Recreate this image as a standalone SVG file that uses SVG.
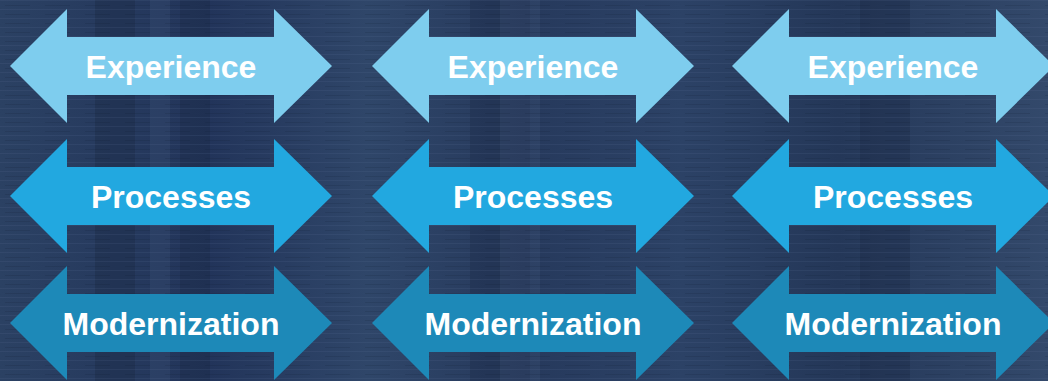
<svg xmlns="http://www.w3.org/2000/svg" width="1048" height="381" viewBox="0 0 1048 381">
  <defs>
    <linearGradient id="bg" x1="0" y1="0" x2="1" y2="0">
      <stop offset="0" stop-color="#2b4163"/>
      <stop offset="0.2" stop-color="#22345a"/>
      <stop offset="0.35" stop-color="#2f4669"/>
      <stop offset="0.5" stop-color="#26395c"/>
      <stop offset="0.65" stop-color="#2c4266"/>
      <stop offset="0.8" stop-color="#243758"/>
      <stop offset="1" stop-color="#33496b"/>
    </linearGradient>
    <pattern id="lines" width="40" height="9" patternUnits="userSpaceOnUse">
      <rect x="0" y="0" width="40" height="1" fill="#5a7397" opacity="0.15"/>
      <rect x="5" y="5" width="25" height="1" fill="#0f1a30" opacity="0.15"/>
    </pattern>
    <path id="arrow" d="M0,0 L57,-57 L57,-29 L264,-29 L264,-57 L322,0 L264,57 L264,29 L57,29 L57,57 Z"/>
  </defs>
  <style>
    .lt { fill: #7ecdee; }
    .md { fill: #22a8e0; }
    .dk { fill: #1d89b8; }
    .lbl { font-family: "Liberation Sans", Arial, sans-serif; font-weight: bold; font-size: 32px; fill: #ffffff; text-anchor: middle; }
  </style>
  <g id="background">
    <rect width="1048" height="381" fill="url(#bg)"/>
    <rect x="95" y="0" width="40" height="381" fill="#1a2743" opacity="0.35"/>
    <rect x="150" y="0" width="20" height="381" fill="#3b5478" opacity="0.3"/>
    <rect x="180" y="0" width="30" height="381" fill="#1a2743" opacity="0.3"/>
    <rect x="470" y="0" width="60" height="381" fill="#1a2743" opacity="0.3"/>
    <rect x="500" y="0" width="40" height="381" fill="#4a6388" opacity="0.2"/>
    <rect x="860" y="0" width="50" height="381" fill="#1a2743" opacity="0.3"/>
    <rect width="1048" height="381" fill="url(#lines)"/>
  </g>
  <g id="col1">
    <g id="c1-experience"><use href="#arrow" class="lt" transform="translate(10,66)"/><text class="lbl" x="171" y="78">Experience</text></g>
    <g id="c1-processes"><use href="#arrow" class="md" transform="translate(10,196)"/><text class="lbl" x="171" y="208">Processes</text></g>
    <g id="c1-modernization"><use href="#arrow" class="dk" transform="translate(10,323)"/><text class="lbl" x="171" y="335">Modernization</text></g>
  </g>
  <g id="col2">
    <g id="c2-experience"><use href="#arrow" class="lt" transform="translate(372,66)"/><text class="lbl" x="533" y="78">Experience</text></g>
    <g id="c2-processes"><use href="#arrow" class="md" transform="translate(372,196)"/><text class="lbl" x="533" y="208">Processes</text></g>
    <g id="c2-modernization"><use href="#arrow" class="dk" transform="translate(372,323)"/><text class="lbl" x="533" y="335">Modernization</text></g>
  </g>
  <g id="col3">
    <g id="c3-experience"><use href="#arrow" class="lt" transform="translate(732,66)"/><text class="lbl" x="893" y="78">Experience</text></g>
    <g id="c3-processes"><use href="#arrow" class="md" transform="translate(732,196)"/><text class="lbl" x="893" y="208">Processes</text></g>
    <g id="c3-modernization"><use href="#arrow" class="dk" transform="translate(732,323)"/><text class="lbl" x="893" y="335">Modernization</text></g>
  </g>
  <g id="connectors"/>
</svg>
